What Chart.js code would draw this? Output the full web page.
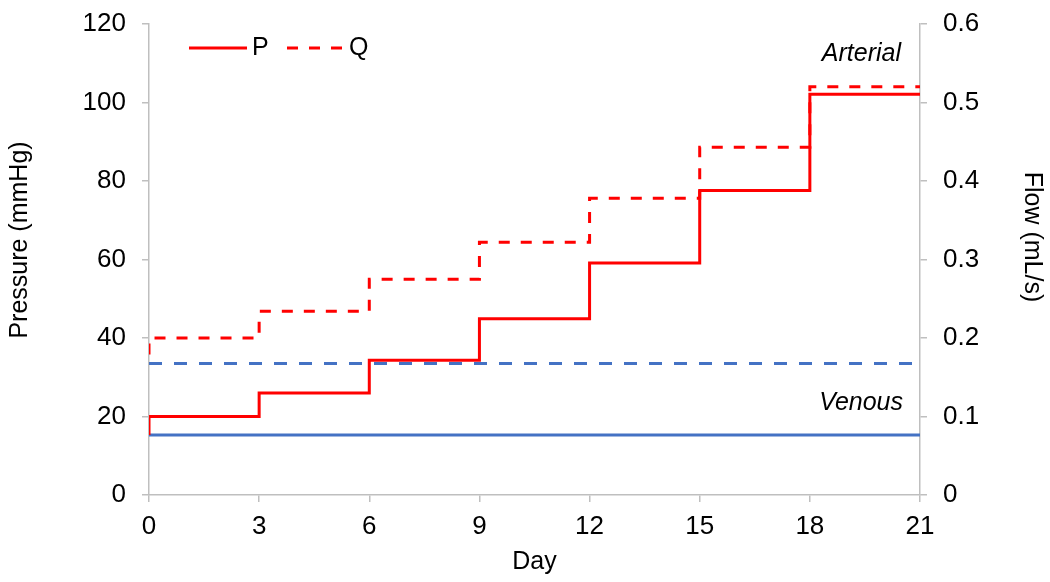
<!DOCTYPE html>
<html>
<head>
<meta charset="utf-8">
<script src="https://cdn.jsdelivr.net/npm/chart.js@4.4.1/dist/chart.umd.min.js"></script>
<style>
  html, body { margin: 0; padding: 0; background: #fff; }
  #wrap { width: 1050px; height: 582px; }
</style>
</head>
<body>
<div id="wrap"><canvas id="chart" width="1050" height="582"></canvas></div>
<script>
// arterial pressure (left axis) and flow (right axis), step changes every 3 days
const days = [0, 0, 3, 6, 9, 12, 15, 18, 21];
const arterialP = [15.3, 20, 26, 34.3, 44.9, 59.1, 77.6, 102.1, 102.1];
const arterialQ = [0.179, 0.2, 0.234, 0.275, 0.322, 0.378, 0.443, 0.52, 0.52];

// venous side stays constant
const venousDays = [0, 21];
const venousP = [15.3, 15.3];
const venousQ = [0.1675, 0.1675];

const xTicks = [0, 3, 6, 9, 12, 15, 18, 21];

const RED = '#ff0000';
const BLUE = '#4472c4';
const AXIS = '#bfbfbf';
const FONT = "'Liberation Sans', Arial, sans-serif";

const pts = (xs, ys) => xs.map((x, i) => ({ x, y: ys[i] }));

function rotatedText(ctx, text, x, y, angle) {
    ctx.save();
    ctx.translate(x, y);
    ctx.rotate(angle);
    ctx.fillText(text, 0, 0);
    ctx.restore();
}

const overlay = {
    id: 'overlay',
    afterDatasetsDraw(chart) {
        const ctx = chart.ctx;
        ctx.save();
        // legend
        ctx.lineWidth = 3;
        ctx.strokeStyle = RED;
        ctx.setLineDash([]);
        ctx.beginPath();
        ctx.moveTo(189, 48);
        ctx.lineTo(247, 48);
        ctx.stroke();
        ctx.setLineDash([11, 11]);
        ctx.beginPath();
        ctx.moveTo(287, 48);
        ctx.lineTo(343, 48);
        ctx.stroke();
        ctx.setLineDash([]);
        ctx.fillStyle = '#000';
        ctx.font = '25px ' + FONT;
        ctx.textBaseline = 'middle';
        ctx.textAlign = 'left';
        ctx.fillText('P', 252, 48);
        ctx.fillText('Q', 349, 48);
        // axis titles (not centred on the plot in the original)
        ctx.font = '25px ' + FONT;
        ctx.textAlign = 'center';
        rotatedText(ctx, 'Pressure (mmHg)', 20, 240, -Math.PI / 2);
        rotatedText(ctx, 'Flow (mL/s)', 1032, 237, Math.PI / 2);
        // labels
        ctx.font = 'italic 25px ' + FONT;
        ctx.textAlign = 'right';
        ctx.textBaseline = 'alphabetic';
        ctx.fillText('Arterial', 901, 61);
        ctx.fillText('Venous', 903, 410);
        ctx.restore();
    }
};

const tickFont = { family: FONT, size: 26 };
const titleFont = { family: FONT, size: 25 };

function fixY(width) {
    return s => {
        s.width = width;
        s.paddingTop = 0;
        s.paddingBottom = 0;
    };
}

new Chart(document.getElementById('chart'), {
    type: 'line',
    data: {
        datasets: [
            {
                label: 'P',
                data: pts(days, arterialP),
                yAxisID: 'y',
                borderColor: RED,
                borderWidth: 3,
                stepped: 'before',
                pointRadius: 0,
                fill: false,
            },
            {
                label: 'Q',
                data: pts(days, arterialQ),
                yAxisID: 'y2',
                borderColor: RED,
                borderWidth: 3,
                borderDash: [11, 11],
                stepped: 'before',
                pointRadius: 0,
                fill: false,
            },
            {
                label: 'P venous',
                data: pts(venousDays, venousP),
                yAxisID: 'y',
                borderColor: BLUE,
                borderWidth: 3,
                pointRadius: 0,
                fill: false,
            },
            {
                label: 'Q venous',
                data: pts(venousDays, venousQ),
                yAxisID: 'y2',
                borderColor: BLUE,
                borderWidth: 3,
                borderDash: [13, 12],
                pointRadius: 0,
                fill: false,
            },
        ]
    },
    options: {
        responsive: false,
        animation: false,
        layout: { padding: { top: 24, left: 0, right: 0, bottom: 0 } },
        plugins: {
            legend: { display: false },
            tooltip: { enabled: false },
        },
        scales: {
            x: {
                type: 'linear',
                min: 0,
                max: 21,
                afterBuildTicks: s => { s.ticks = xTicks.map(v => ({ value: v })); },
                afterFit: s => { s.height = 87; },
                ticks: { color: '#000', font: tickFont, padding: 9, maxRotation: 0 },
                grid: { drawOnChartArea: false, drawTicks: true, tickLength: 7, color: AXIS, lineWidth: 1.5 },
                border: { color: AXIS, width: 1.5 },
                title: { display: true, text: 'Day', color: '#000', font: titleFont, padding: { top: 0, bottom: 5 } },
            },
            y: {
                position: 'left',
                min: 0,
                max: 120,
                afterFit: fixY(149),
                ticks: { stepSize: 20, color: '#000', font: tickFont, padding: 16 },
                grid: { drawOnChartArea: false, drawTicks: true, tickLength: 7, color: AXIS, lineWidth: 1.5 },
                border: { color: AXIS, width: 1.5 },
            },
            y2: {
                position: 'right',
                min: 0,
                max: 0.6,
                afterFit: fixY(130),
                ticks: { stepSize: 0.1, color: '#000', font: tickFont, padding: 16, callback: v => (Math.round(v * 10) / 10).toString() },
                grid: { drawOnChartArea: false, drawTicks: true, tickLength: 7, color: AXIS, lineWidth: 1.5 },
                border: { color: AXIS, width: 1.5 },
            },
        }
    },
    plugins: [overlay]
});
</script>
</body>
</html>
